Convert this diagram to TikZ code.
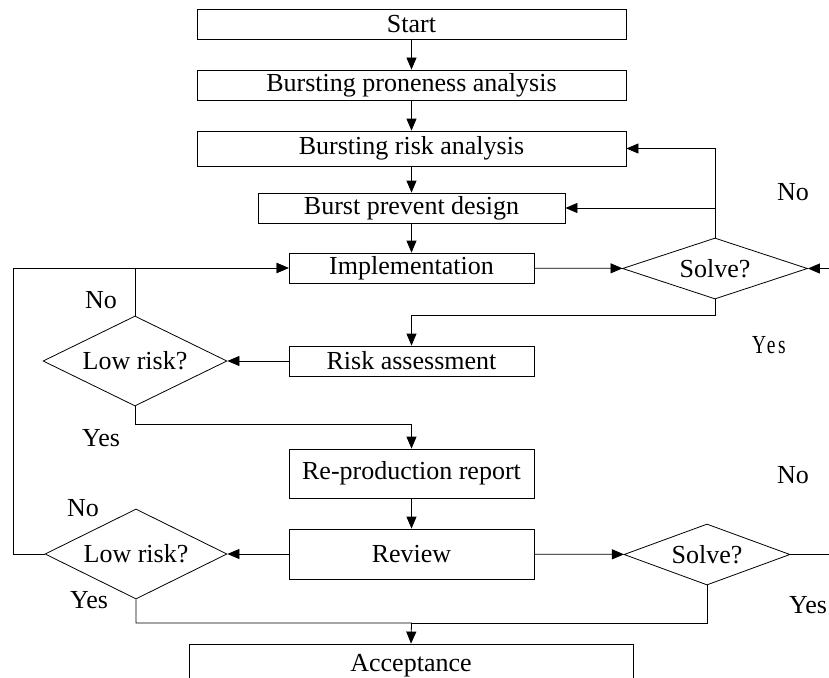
\documentclass[tikz,border=0pt]{standalone}
\usepackage{fontspec}
\setmainfont{Liberation Serif}
\newfontfamily\yesfont{Liberation Serif}[FakeStretch=0.75,LetterSpace=10]
\usetikzlibrary{shapes.geometric,arrows.meta}
\begin{document}
\begin{tikzpicture}[x=1pt,y=-1pt,
  every node/.style={font=\fontsize{26}{28}\selectfont},
  box/.style={draw, rectangle, inner sep=0pt, line width=0.8pt},
  dia/.style={draw, diamond, inner sep=0pt, line width=0.8pt},
  ln/.style={line width=0.8pt},
  arr/.style={ln, -{Triangle[length=12pt,width=10pt]}},
  lbl/.style={inner sep=0pt}]
\useasboundingbox (0,0) rectangle (829,677);
\clip (0,0) rectangle (829,677);

\node[box, minimum width=429pt, minimum height=30pt] (start) at (411.5,24) {Start};
\node[box, minimum width=429pt, minimum height=30pt] (bpa) at (411.5,85) {Bursting proneness analysis};
\node[box, minimum width=429pt, minimum height=35pt] (bra) at (411.5,148.5) {Bursting risk analysis};
\node[box, minimum width=307pt, minimum height=30pt] (bpd) at (411.5,208) {Burst prevent design};
\node[box, minimum width=245pt, minimum height=30pt] (impl) at (411.5,268) {Implementation};
\node[dia, aspect=3, minimum width=185pt, minimum height=61pt] (s1) at (715,268.5) {Solve?};
\node[box, minimum width=245pt, minimum height=30pt] (ra) at (411.5,361) {Risk assessment};
\node[dia, aspect=2, minimum width=184pt, minimum height=90pt] (l1) at (135,361) {Low risk?};
\node[box, minimum width=245pt, minimum height=49pt] (rpr) at (411.5,473.5) {Re-production report};
\node[box, minimum width=245pt, minimum height=50pt] (rev) at (411.5,554) {Review};
\node[dia, aspect=2, minimum width=182pt, minimum height=90pt] (l2) at (136,554) {Low risk?};
\node[dia, aspect=3, minimum width=166pt, minimum height=61pt] (s2) at (707,554.5) {Solve?};
\node[box, minimum width=444pt, minimum height=44pt] (acc) at (411,666) {Acceptance};

\coordinate (r1) at (829,268.5);
\coordinate (r2) at (829,554.5);
\coordinate (lx) at (13,0);
\coordinate (j) at (411.5,623);

\draw[arr] (start) -- (bpa);
\draw[arr] (bpa) -- (bra);
\draw[arr] (bra) -- (bpd);
\draw[arr] (bpd) -- (impl);
\draw[arr] (impl) -- (s1);
\draw[arr] (s1.north) |- (bpd.east);
\draw[arr] (s1.north) |- (bra.east);
\draw[arr] (r1) -- (s1.east);
\draw[arr] (s1.south) -- ++(0,16) -| (ra.north);
\draw[arr] (ra) -- (l1);
\draw[arr] (l1.north) |- (impl.west);
\draw[arr] (l2.west) -- (l2.west -| lx) |- (impl.west);
\draw[arr] (l1.south) -- ++(0,18) -| (rpr.north);
\draw[arr] (rpr) -- (rev);
\draw[arr] (rev) -- (l2);
\draw[arr] (rev) -- (s2);
\draw[ln] (s2.east) -- (r2);
\draw[arr] (l2.south) |- (j) -- (acc.north);
\draw[ln] (s2.south) |- (j);

\node[lbl] (n1) at (101,300) {No};
\node[lbl] (y1) at (101,438) {Yes};
\node[lbl] (n2) at (793,192) {No};
\node[lbl, font=\yesfont\fontsize{26}{28}\selectfont] (y2) at (769,345) {Yes};
\node[lbl] (n3) at (83,508) {No};
\node[lbl] (y3) at (89,600) {Yes};
\node[lbl] (n4) at (793,475) {No};
\node[lbl] (y4) at (808,605) {Yes};
\end{tikzpicture}
\end{document}
